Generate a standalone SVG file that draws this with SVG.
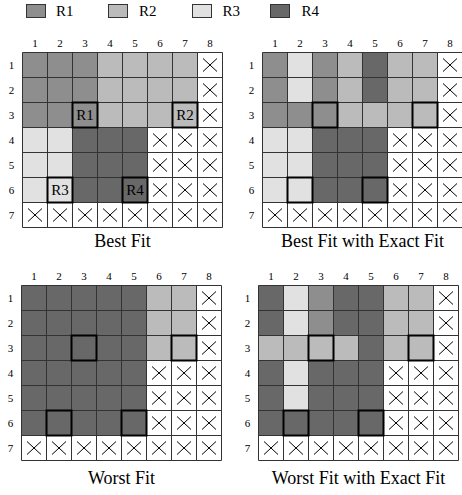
<svg xmlns="http://www.w3.org/2000/svg" xmlns:xlink="http://www.w3.org/1999/xlink" width="462" height="495" viewBox="0 0 462 495">
<style>
text{font-family:"Liberation Serif","Times New Roman",serif;fill:#000}
.r1{fill:#8e8e8e}.r2{fill:#bbbbbb}.r3{fill:#e1e1e1}.r4{fill:#686868}
.grid{fill:none;stroke:#333;stroke-width:1}
.xm{fill:none;stroke:#000;stroke-width:1}
.bold{fill:none;stroke:#000;stroke-width:2}
.lg{stroke:#333;stroke-width:1}
.num{font-size:11px;text-anchor:middle}
.ttl{font-size:18px;text-anchor:middle}
.cl{font-size:15px;text-anchor:middle}
.leg{font-size:15px}
</style>
<defs>
<path id="g" class="grid" d="M0 0V175M25 0V175M50 0V175M75 0V175M100 0V175M125 0V175M150 0V175M175 0V175M200 0V175M0 0H200M0 25H200M0 50H200M0 75H200M0 100H200M0 125H200M0 150H200M0 175H200"/>
<path id="x" class="xm" d="M5.5 6L19.5 19M19.5 6L5.5 19"/>
<g id="xs">
<use xlink:href="#x" x="175" y="0"/><use xlink:href="#x" x="175" y="25"/><use xlink:href="#x" x="175" y="50"/>
<use xlink:href="#x" x="125" y="75"/><use xlink:href="#x" x="150" y="75"/><use xlink:href="#x" x="175" y="75"/>
<use xlink:href="#x" x="125" y="100"/><use xlink:href="#x" x="150" y="100"/><use xlink:href="#x" x="175" y="100"/>
<use xlink:href="#x" x="125" y="125"/><use xlink:href="#x" x="150" y="125"/><use xlink:href="#x" x="175" y="125"/>
<use xlink:href="#x" x="0" y="150"/><use xlink:href="#x" x="25" y="150"/><use xlink:href="#x" x="50" y="150"/><use xlink:href="#x" x="75" y="150"/>
<use xlink:href="#x" x="100" y="150"/><use xlink:href="#x" x="125" y="150"/><use xlink:href="#x" x="150" y="150"/><use xlink:href="#x" x="175" y="150"/>
</g>
<g id="bolds">
<rect class="bold" x="50" y="50" width="25" height="25"/><rect class="bold" x="150" y="50" width="25" height="25"/>
<rect class="bold" x="25" y="125" width="25" height="25"/><rect class="bold" x="100" y="125" width="25" height="25"/>
</g>
<g id="labels">
<text class="num" x="12.5" y="-6">1</text><text class="num" x="37.5" y="-6">2</text><text class="num" x="62.5" y="-6">3</text><text class="num" x="87.5" y="-6">4</text>
<text class="num" x="112.5" y="-6">5</text><text class="num" x="137.5" y="-6">6</text><text class="num" x="162.5" y="-6">7</text><text class="num" x="187.5" y="-6">8</text>
<text class="num" x="-11" y="16.5">1</text><text class="num" x="-11" y="41.5">2</text><text class="num" x="-11" y="66.5">3</text><text class="num" x="-11" y="91.5">4</text>
<text class="num" x="-11" y="116.5">5</text><text class="num" x="-11" y="141.5">6</text><text class="num" x="-11" y="166.5">7</text>
</g>
</defs>

<g id="legend">
<rect class="r1 lg" x="26.5" y="4.5" width="19" height="13"/><text class="leg" x="56" y="16">R1</text>
<rect class="r2 lg" x="108.5" y="4.5" width="19" height="13"/><text class="leg" x="139" y="16">R2</text>
<rect class="r3 lg" x="192.5" y="4.5" width="19" height="13"/><text class="leg" x="222.5" y="16">R3</text>
<rect class="r4 lg" x="270.5" y="4.5" width="19" height="13"/><text class="leg" x="301.5" y="16">R4</text>
</g>

<g id="best-fit" transform="translate(22.5,52.5)">
<rect class="r1" x="0" y="0" width="75" height="75"/>
<rect class="r2" x="75" y="0" width="100" height="75"/>
<rect class="r3" x="0" y="75" width="50" height="75"/>
<rect class="r4" x="50" y="75" width="75" height="75"/>
<use xlink:href="#g"/><use xlink:href="#xs"/><use xlink:href="#bolds"/><use xlink:href="#labels"/>
<text class="cl" x="62.5" y="67.5">R1</text><text class="cl" x="162.5" y="67.5">R2</text>
<text class="cl" x="37.5" y="142.5">R3</text><text class="cl" x="112.5" y="142.5">R4</text>
<text class="ttl" x="100" y="194.5">Best Fit</text>
</g>

<g id="best-fit-exact" transform="translate(262.5,52.5)">
<rect class="r1" x="0" y="0" width="25" height="75"/><rect class="r1" x="25" y="50" width="25" height="25"/><rect class="r1" x="50" y="0" width="25" height="75"/>
<rect class="r3" x="25" y="0" width="25" height="50"/><rect class="r3" x="0" y="75" width="50" height="75"/>
<rect class="r2" x="75" y="0" width="25" height="75"/><rect class="r2" x="100" y="50" width="25" height="25"/><rect class="r2" x="125" y="0" width="50" height="75"/>
<rect class="r4" x="100" y="0" width="25" height="50"/><rect class="r4" x="50" y="75" width="75" height="75"/>
<use xlink:href="#g"/><use xlink:href="#xs"/><use xlink:href="#bolds"/><use xlink:href="#labels"/>
<text class="ttl" x="100" y="194.5">Best Fit with Exact Fit</text>
</g>

<g id="worst-fit" transform="translate(21.5,285.5)">
<rect class="r4" x="0" y="0" width="125" height="150"/>
<rect class="r2" x="125" y="0" width="50" height="75"/>
<use xlink:href="#g"/><use xlink:href="#xs"/><use xlink:href="#bolds"/><use xlink:href="#labels"/>
<text class="ttl" x="100" y="198.5">Worst Fit</text>
</g>

<g id="worst-fit-exact" transform="translate(258.5,285.5)">
<rect class="r4" x="0" y="0" width="25" height="50"/><rect class="r4" x="0" y="75" width="25" height="75"/>
<rect class="r4" x="75" y="0" width="50" height="50"/><rect class="r4" x="100" y="50" width="25" height="25"/>
<rect class="r4" x="50" y="75" width="75" height="75"/><rect class="r4" x="25" y="125" width="25" height="25"/>
<rect class="r3" x="25" y="0" width="25" height="50"/><rect class="r3" x="25" y="75" width="25" height="50"/>
<rect class="r1" x="50" y="0" width="25" height="50"/>
<rect class="r2" x="0" y="50" width="100" height="25"/><rect class="r2" x="125" y="0" width="50" height="75"/>
<use xlink:href="#g"/><use xlink:href="#xs"/><use xlink:href="#bolds"/><use xlink:href="#labels"/>
<text class="ttl" x="100" y="198.5">Worst Fit with Exact Fit</text>
</g>
</svg>
